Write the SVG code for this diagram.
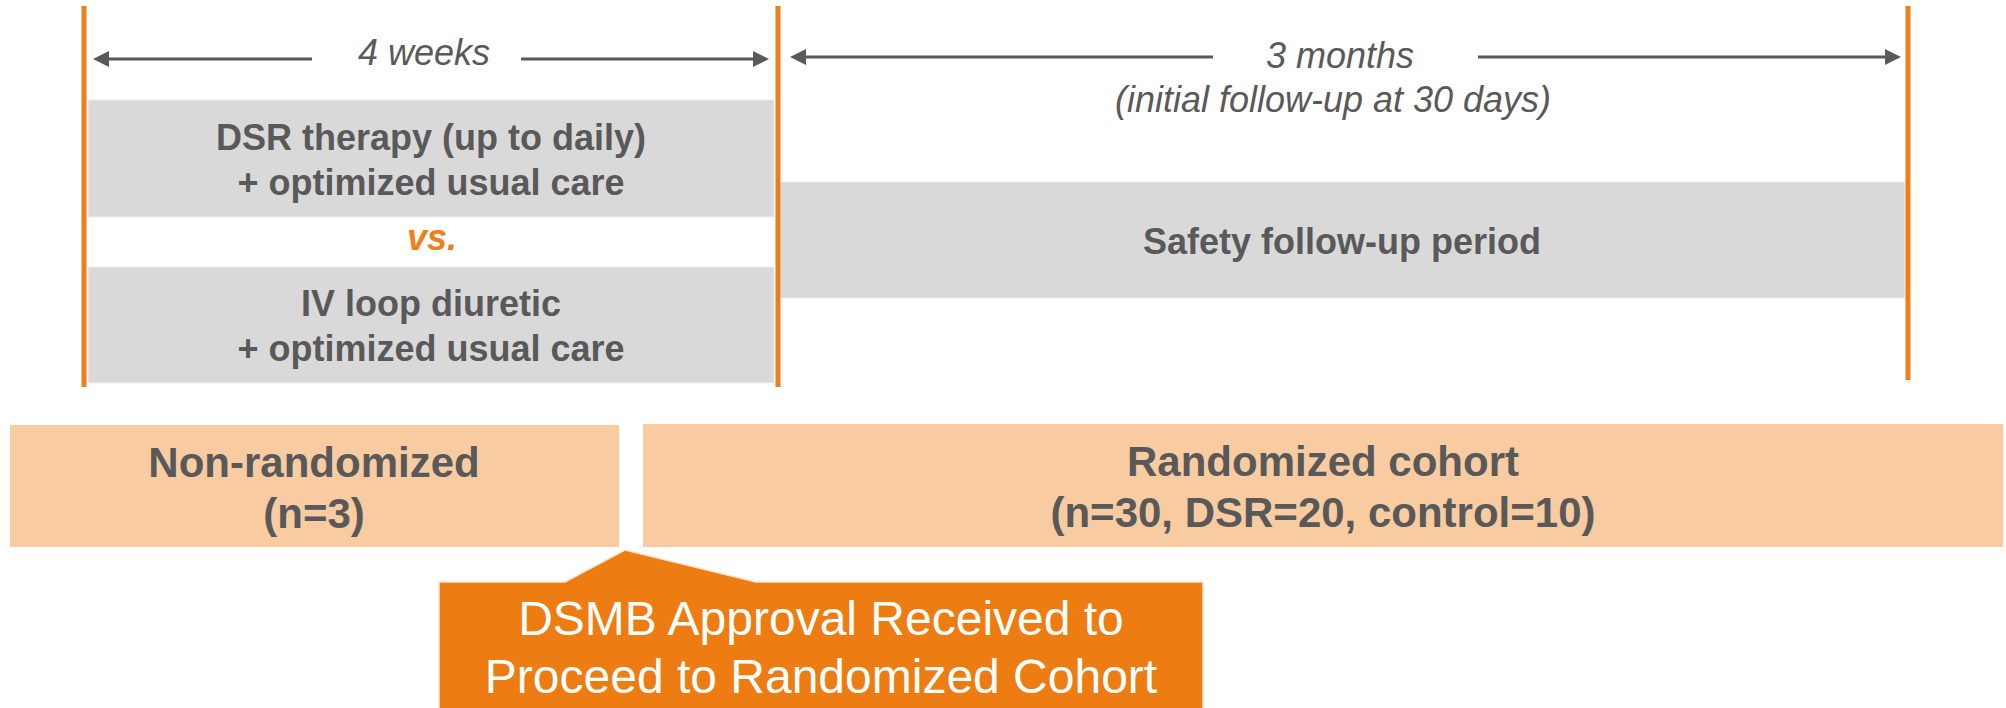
<svg xmlns="http://www.w3.org/2000/svg" width="2006" height="708" viewBox="0 0 2006 708">
<style>
.bar{stroke:#EE7F1A;stroke-width:5;fill:none}
.grey{fill:#D9D9D9;stroke:#EFEFEF;stroke-width:1}
.peach{fill:#F8CBA1}
.t{font-family:"Liberation Sans",Arial,sans-serif;fill:#595959;text-anchor:middle}
.b{font-weight:bold;font-size:36px}
.i{font-style:italic;font-size:36px}
.big{font-weight:bold;font-size:42px}
.arr{stroke:#595959;stroke-width:3;fill:none}
</style>
<defs>
<marker id="ah" viewBox="0 0 16 16" refX="8" refY="8" markerWidth="16" markerHeight="16" markerUnits="userSpaceOnUse" orient="auto-start-reverse">
<path d="M0,0 L16,8 L0,16 z" fill="#595959"/>
</marker>
</defs>
<rect width="2006" height="708" fill="#FFFFFF"/>
<g id="dsr-arm">
<rect class="grey" x="88" y="100" width="686" height="117"/>
<text class="t b" x="431" y="150">DSR therapy (up to daily)</text>
<text class="t b" x="431" y="195">+ optimized usual care</text>
</g>
<g id="vs">
<text class="t" x="432" y="250" style="font-weight:bold;font-style:italic;font-size:36px;fill:#EE7F1A">vs.</text>
</g>
<g id="control-arm">
<rect class="grey" x="88" y="267" width="686" height="116"/>
<text class="t b" x="431" y="316">IV loop diuretic</text>
<text class="t b" x="431" y="361">+ optimized usual care</text>
</g>
<g id="safety">
<rect class="grey" x="780" y="182" width="1125" height="116"/>
<text class="t b" x="1342" y="254">Safety follow-up period</text>
</g>
<g id="timeline-bars">
<line class="bar" x1="84" y1="6" x2="84" y2="387"/>
<line class="bar" x1="778" y1="6" x2="778" y2="387"/>
<line class="bar" x1="1908" y1="6" x2="1908" y2="380"/>
</g>
<g id="label-4weeks">
<text class="t i" x="424" y="65">4 weeks</text>
</g>
<g id="label-3months">
<text class="t i" x="1340" y="68">3 months</text>
<text class="t i" x="1333" y="112">(initial follow-up at 30 days)</text>
</g>
<g id="connectors">
<line class="arr" x1="101" y1="59" x2="312" y2="59" marker-start="url(#ah)"/>
<line class="arr" x1="521" y1="59" x2="761" y2="59" marker-end="url(#ah)"/>
<line class="arr" x1="798" y1="57" x2="1213" y2="57" marker-start="url(#ah)"/>
<line class="arr" x1="1478" y1="57" x2="1893" y2="57" marker-end="url(#ah)"/>
</g>
<g id="non-randomized">
<rect class="peach" x="10" y="425" width="609" height="122"/>
<text class="t big" x="314" y="477">Non-randomized</text>
<text class="t big" x="314" y="528">(n=3)</text>
</g>
<g id="randomized">
<rect class="peach" x="643" y="424" width="1360" height="123"/>
<text class="t big" x="1323" y="476">Randomized cohort</text>
<text class="t big" x="1323" y="527">(n=30, DSR=20, control=10)</text>
</g>
<g id="dsmb-callout">
<path d="M439,582 L565,582 L625,550 L756,582 L1203,582 L1203,712 L439,712 Z" fill="#ED7D12" stroke="#FBE3CF" stroke-width="1.5"/>
<text x="821" y="635" style="font-family:'Liberation Sans',Arial,sans-serif;font-size:48px;fill:#FFFFFF;text-anchor:middle">DSMB Approval Received to</text>
<text x="821" y="693" style="font-family:'Liberation Sans',Arial,sans-serif;font-size:48px;fill:#FFFFFF;text-anchor:middle">Proceed to Randomized Cohort</text>
</g>
</svg>
